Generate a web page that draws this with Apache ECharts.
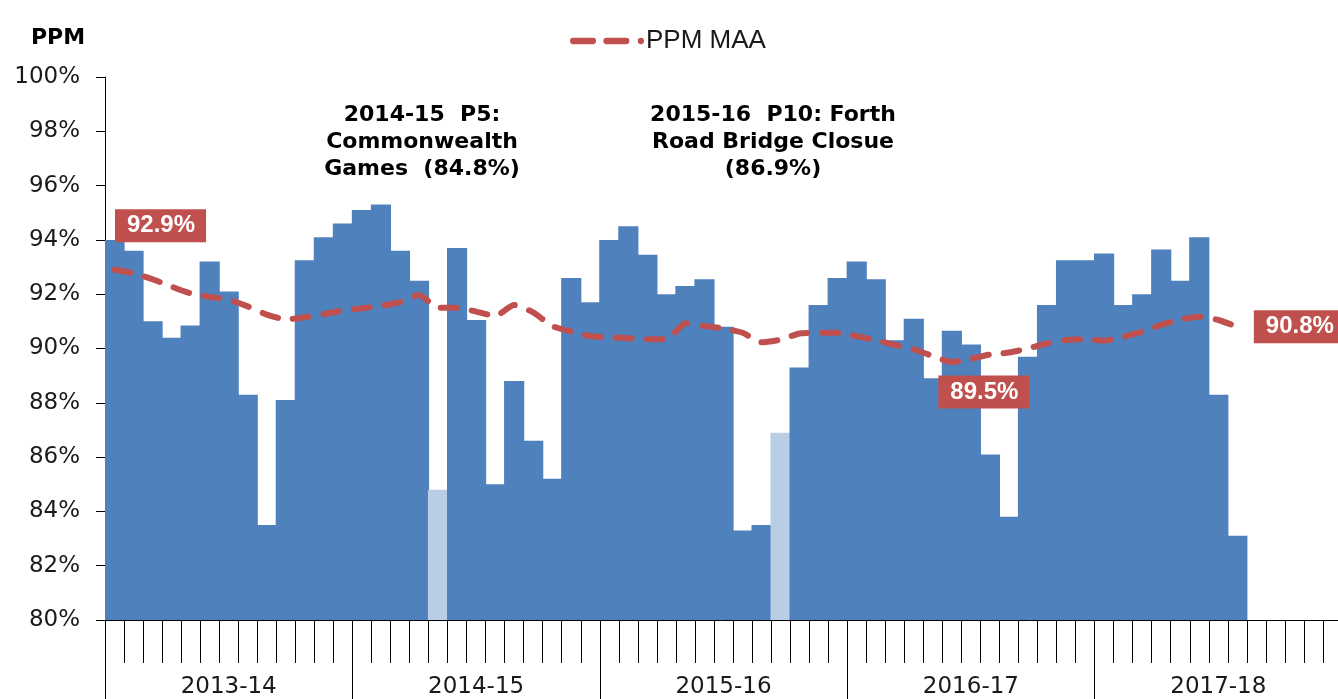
<!DOCTYPE html>
<html>
<head>
<meta charset="utf-8">
<script src="https://cdn.jsdelivr.net/npm/echarts@6/dist/echarts.min.js"></script>
<style>
html,body{margin:0;padding:0;background:#fff;}
#c{width:1338px;height:699px;}
</style>
</head>
<body>
<div id="c"></div>
<script>
// ---- data ----
const years = ['2013-14', '2014-15', '2015-16', '2016-17', '2017-18'];
const periodsPerYear = 13;

const ppm1314 = [94.0, 93.6, 91.0, 90.4, 90.85, 93.2, 92.1, 88.3, 83.5, 88.1, 93.25, 94.1, 94.6];
const ppm1415 = [95.1, 95.3, 93.6, 92.5, 84.8, 93.7, 91.05, 85.0, 88.8, 86.6, 85.2, 92.6, 91.7];
const ppm1516 = [94.0, 94.5, 93.45, 92.0, 92.3, 92.55, 90.8, 83.3, 83.5, 86.9, 89.3, 91.6, 92.6];
const ppm1617 = [93.2, 92.55, 90.3, 91.1, 88.9, 90.65, 90.15, 86.1, 83.8, 89.7, 91.6, 93.25, 93.25];
const ppm1718 = [93.5, 91.6, 92.0, 93.65, 92.5, 94.1, 88.3, 83.1];

const maa1314 = [92.9, 92.77, 92.55, 92.28, 92.03, 91.9, 91.8, 91.55, 91.25, 91.07, 91.15, 91.27, 91.4];
const maa1415 = [91.48, 91.57, 91.72, 91.97, 91.5, 91.5, 91.36, 91.2, 91.6, 91.33, 90.83, 90.62, 90.46];
const maa1516 = [90.41, 90.38, 90.34, 90.34, 90.93, 90.83, 90.74, 90.58, 90.23, 90.33, 90.55, 90.58, 90.58];
const maa1617 = [90.45, 90.31, 90.13, 89.97, 89.72, 89.5, 89.62, 89.78, 89.85, 90.0, 90.19, 90.31, 90.34];
const maa1718 = [90.29, 90.43, 90.62, 90.87, 91.07, 91.17, 91.05, 90.8];

// highlighted (event) periods: [year index, period number]
const eventPeriods = [[1, 5], [2, 10]];
const eventTexts = [
  '2014-15  P5:\nCommonwealth\nGames  (84.8%)',
  '2015-16  P10: Forth\nRoad Bridge Closue\n(86.9%)'
];

const yTicks = {min: 80, max: 100, step: 2};

// ---- build ----
const ppmByYear = [ppm1314, ppm1415, ppm1516, ppm1617, ppm1718];
const maaByYear = [maa1314, maa1415, maa1516, maa1617, maa1718];

const categories = [];
years.forEach(y => { for (let p = 1; p <= periodsPerYear; p++) categories.push(y + ' P' + p); });

const BLUE = '#4F81BD', LIGHT = '#B9CDE5', RED = '#C0504D';
const FONT = '"DejaVu Sans", Verdana, sans-serif';
const LFONT = '"Liberation Sans", Arial, sans-serif';

const barData = [];
const maaData = [];
ppmByYear.forEach((arr, yi) => {
  for (let p = 0; p < periodsPerYear; p++) {
    const v = p < arr.length ? arr[p] : null;
    const isEvent = eventPeriods.some(e => e[0] === yi && e[1] === p + 1);
    barData.push(isEvent ? {value: v, itemStyle: {color: LIGHT}} : v);
    const m = maaByYear[yi];
    maaData.push(p < m.length ? m[p] : null);
  }
});

// label points: first, minimum, last
let firstIdx = 0, lastIdx = 0, minIdx = 0;
maaData.forEach((v, i) => {
  if (v == null) return;
  lastIdx = i;
  if (v < maaData[minIdx]) minIdx = i;
});
const labelOffsets = {};
labelOffsets[firstIdx] = [46, -44];
labelOffsets[minIdx] = [32, 30];
labelOffsets[lastIdx] = [62, 0];
const labelData = [firstIdx, minIdx, lastIdx].map(i => ({
  value: [i, maaData[i]],
  label: {offset: labelOffsets[i]}
}));

const legendIcon = 'path://M3,0H22A3,3,0,0,1,22,6H3A3,3,0,0,1,3,0Z M35,0H54A3,3,0,0,1,54,6H35A3,3,0,0,1,35,0Z M68,0A3,3,0,0,1,68,6A3,3,0,0,1,68,0Z';

const chart = echarts.init(document.getElementById('c'), null, {renderer: 'canvas'});
chart.setOption({
  animation: false,
  textStyle: {fontFamily: FONT},
  grid: {left: 105, right: -4, top: 77, bottom: 79, containLabel: false, outerBoundsMode: 'none'},
  legend: {
    data: [{name: 'PPM MAA', icon: legendIcon}],
    left: 565, top: 23,
    itemWidth: 74, itemHeight: 7,
    itemStyle: {color: RED},
    textStyle: {fontSize: 26, color: '#1a1a1a', fontFamily: LFONT, padding: [0, 0, 0, -3]}
  },
  xAxis: [
    {
      type: 'category', data: categories, boundaryGap: true,
      axisLine: {show: true, lineStyle: {color: '#000', width: 1}},
      axisTick: {show: true, interval: 0, length: 43, lineStyle: {color: '#000'}},
      axisLabel: {show: false},
      splitLine: {show: false}
    },
    {
      type: 'category', data: years, position: 'bottom', boundaryGap: true,
      axisLine: {show: false},
      axisTick: {show: true, interval: 0, length: 80, lineStyle: {color: '#000'}},
      axisLabel: {show: true, interval: 0, margin: 56, fontSize: 23, color: '#1a1a1a', fontFamily: FONT},
      splitLine: {show: false}
    }
  ],
  yAxis: {
    type: 'value', min: yTicks.min, max: yTicks.max, interval: yTicks.step,
    axisLine: {show: true, lineStyle: {color: '#000'}},
    axisTick: {show: true, length: 9, lineStyle: {color: '#000'}},
    splitLine: {show: false},
    axisLabel: {formatter: '{value}%', fontSize: 23, color: '#1a1a1a', margin: 25, fontFamily: FONT}
  },
  graphic: [
    {type: 'text', left: 31, top: 27, style: {text: 'PPM', font: 'bold 22px ' + FONT, fill: '#000'}},
    {type: 'text', x: 422, y: 102, style: {text: eventTexts[0], font: 'bold 22px ' + FONT, fill: '#000', align: 'center', verticalAlign: 'top', lineHeight: 27}},
    {type: 'text', x: 773, y: 102, style: {text: eventTexts[1], font: 'bold 22px ' + FONT, fill: '#000', align: 'center', verticalAlign: 'top', lineHeight: 27}}
  ],
  series: [
    {
      name: 'PPM', type: 'bar', xAxisIndex: 0, data: barData,
      barWidth: '106%',
      itemStyle: {color: BLUE, borderWidth: 0},
      z: 2
    },
    {
      name: 'PPM MAA', type: 'line', xAxisIndex: 0, data: maaData,
      symbol: 'none', smooth: 0.2,
      lineStyle: {color: RED, width: 6, type: [16, 15], cap: 'round'},
      itemStyle: {color: RED},
      z: 3
    },
    {
      name: 'labels', type: 'scatter', xAxisIndex: 0, data: labelData,
      symbolSize: 0, itemStyle: {color: 'rgba(0,0,0,0)', opacity: 1},
      label: {
        show: true, position: 'inside',
        formatter: p => p.value[1].toFixed(1) + '%',
        backgroundColor: RED, color: '#fff', fontSize: 24, fontWeight: 'bold',
        padding: [5, 11, 4, 12], fontFamily: LFONT, opacity: 1
      },
      z: 5
    }
  ]
});
</script>
</body>
</html>
